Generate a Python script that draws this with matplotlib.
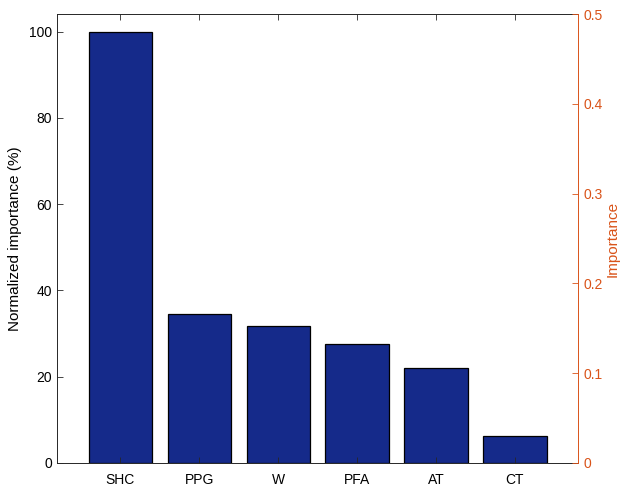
import matplotlib
matplotlib.use("Agg")
from matplotlib import pyplot as plt

# feature importance data
features = ['SHC', 'PPG', 'W', 'PFA', 'AT', 'CT']
norm_importance = [100, 34.5, 31.7, 27.7, 22.1, 6.2]

plt.rcParams['font.family'] = ['Liberation Sans', 'DejaVu Sans']
plt.rcParams['font.size'] = 10

dark = '#262626'
orange = '#D95319'

fig = plt.figure(figsize=(6.23, 4.87), dpi=100)
ax = fig.add_axes([0.0915, 0.0493, 0.8365, 0.9219])

x = list(range(1, len(features) + 1))
ax.bar(x, norm_importance, width=0.8, color='#152A8A', edgecolor='black', linewidth=0.9)
ax.set_xlim(0.2, 6.8)
ax.set_ylim(0, 104.1)
ax.set_xticks(x)
ax.set_xticklabels(features)
ax.set_yticks([0, 20, 40, 60, 80, 100])
ax.set_ylabel('Normalized importance (%)', color='black', fontsize=11, labelpad=5)
ax.tick_params(axis='both', direction='in', colors=dark, labelcolor='black', length=4, top=True, width=0.6)
ax.tick_params(axis='x', pad=7)
for s in ['left', 'top', 'bottom']:
    ax.spines[s].set_color(dark)
    ax.spines[s].set_linewidth(0.7)
ax.spines['right'].set_visible(False)

# right axis: raw importance
ax2 = ax.twinx()
ax2.set_ylim(0, 0.5)
ax2.set_yticks([0, 0.1, 0.2, 0.3, 0.4, 0.5])
ax2.set_yticklabels(['0', '0.1', '0.2', '0.3', '0.4', '0.5'])
ax2.set_ylabel('Importance', color=orange, fontsize=11, labelpad=2)
ax2.tick_params(axis='y', direction='in', colors=orange, length=4, width=0.6)
ax2.spines['right'].set_color(orange)
ax2.spines['right'].set_linewidth(0.7)
for s in ['left', 'top', 'bottom']:
    ax2.spines[s].set_visible(False)

fig.savefig('out.png', dpi=100)
